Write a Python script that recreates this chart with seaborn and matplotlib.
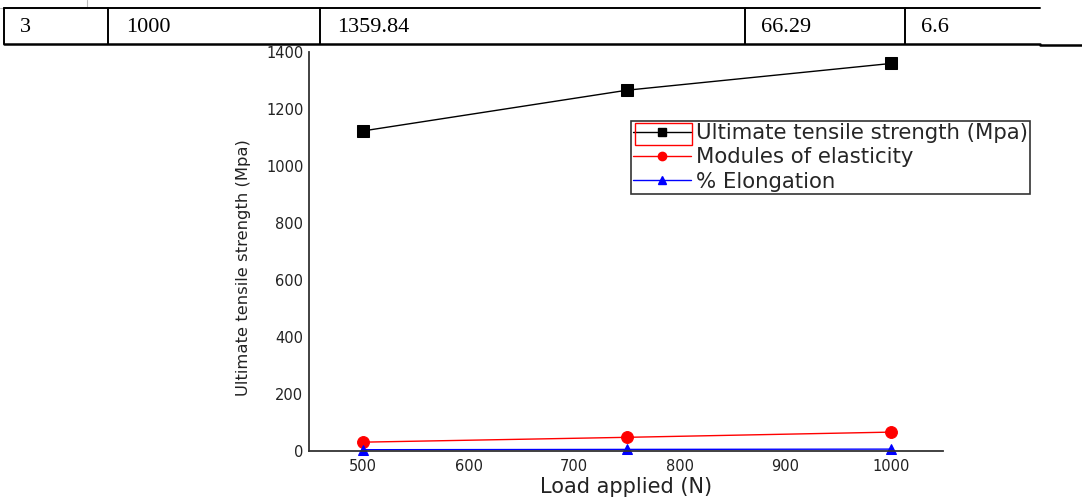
import matplotlib
matplotlib.use("Agg")
import matplotlib.pyplot as plt
import seaborn as sns
import pandas as pd
from matplotlib.lines import Line2D
from matplotlib.patches import Rectangle

# ---- data ----
load = [500, 750, 1000]
uts = [1123, 1266, 1359.84]
modulus = [31, 48, 66.29]
elongation = [4.5, 5.6, 6.6]
series_names = ["Ultimate tensile strength (Mpa)", "Modules of elasticity", "% Elongation"]
table_row = ["3", "1000", "1359.84", "66.29", "6.6"]
x_ticks = [500, 600, 700, 800, 900, 1000]
y_ticks = [0, 200, 400, 600, 800, 1000, 1200, 1400]

df = pd.DataFrame({
    "load": load * 3,
    "value": uts + modulus + elongation,
    "series": [series_names[0]] * 3 + [series_names[1]] * 3 + [series_names[2]] * 3,
})

sns.set_style("white")
plt.rcParams["font.family"] = ["DejaVu Sans"]

W, H = 1082, 499
fig = plt.figure(figsize=(W / 100, H / 100), dpi=100)

def fx(px):
    return px / W

def fy(py):
    return 1 - py / H

ax = fig.add_axes([fx(309), fy(451), fx(943) - fx(309), fy(52) - fy(451)])

colors = {series_names[0]: "black", series_names[1]: "#ff0000", series_names[2]: "#0000ff"}
markers = {series_names[0]: "s", series_names[1]: "o", series_names[2]: "^"}
sizes = {series_names[0]: 8.5, series_names[1]: 8.5, series_names[2]: 7.5}
handles = []
for name in series_names:
    sub = df[df["series"] == name]
    sns.lineplot(data=sub, x="load", y="value", ax=ax, color=colors[name],
                 marker=markers[name], markersize=sizes[name], linewidth=1.0,
                 markeredgecolor=colors[name], label=name, legend=False, clip_on=False)
    handles.append(Line2D([0], [0], color=colors[name], marker=markers[name],
                          markersize=6, linewidth=1.0,
                          markeredgecolor=colors[name]))

ax.set_xlim(449, 1049)
ax.set_ylim(0, 1400)
ax.set_xticks(x_ticks)
ax.set_yticks(y_ticks)
ax.tick_params(axis="both", length=0, labelsize=10.5, colors="#222222")
ax.tick_params(axis="x", pad=6)
ax.tick_params(axis="y", pad=4)
ax.set_xlabel("Load applied (N)", fontsize=15, color="#222222")
ax.xaxis.set_label_coords(0.5, -0.066)
ax.set_ylabel("Ultimate tensile strength (Mpa)", fontsize=11.8, color="#222222")
ax.yaxis.set_label_coords(-0.092, 0.46)
for s in ["top", "right"]:
    ax.spines[s].set_visible(False)
for s in ["left", "bottom"]:
    ax.spines[s].set_color("#333333")
    ax.spines[s].set_linewidth(1.3)
ax.set_facecolor("white")

leg = ax.legend(handles, series_names, loc="upper left",
                bbox_to_anchor=((631 - 309) / (943 - 309), (451 - 121) / (451 - 52)),
                frameon=True, fancybox=False, fontsize=15.3, handlelength=2.7,
                handletextpad=0.25, borderpad=0.1, labelspacing=0.2,
                borderaxespad=0)
leg.get_frame().set_edgecolor("black")
leg.get_frame().set_linewidth(1.2)

# red box around first legend handle
fig.add_artist(Rectangle((fx(635), fy(145)), fx(692) - fx(635), fy(123) - fy(145),
                         fill=False, edgecolor="red", linewidth=1.0,
                         transform=fig.transFigure))

# ---- table row at the top ----
def hline(x0, x1, y, lw=1.0, c="black"):
    fig.add_artist(Line2D([fx(x0), fx(x1)], [fy(y), fy(y)], color=c, linewidth=lw,
                          transform=fig.transFigure))

def vline(x, y0, y1, lw=1.0, c="black"):
    fig.add_artist(Line2D([fx(x), fx(x)], [fy(y0), fy(y1)], color=c, linewidth=lw,
                          transform=fig.transFigure))

hline(0, 87, 8, 0.8, "#bbbbbb")
vline(87, 0, 8, 0.8, "#bbbbbb")
hline(4, 1040, 8, 1.4)
hline(4, 1040, 44, 1.8)
hline(1040, 1082, 45, 1.8)
for xv in [4, 108, 320, 745, 905]:
    vline(xv, 8, 44, 1.4)
text_x = [20, 126, 337, 761, 921]
for t, xv in zip(table_row, text_x):
    fig.text(fx(xv), fy(27), t, ha="left", va="center", fontsize=16,
             family="Liberation Serif", color="black")

fig.savefig("out.png", dpi=100, facecolor="white")
